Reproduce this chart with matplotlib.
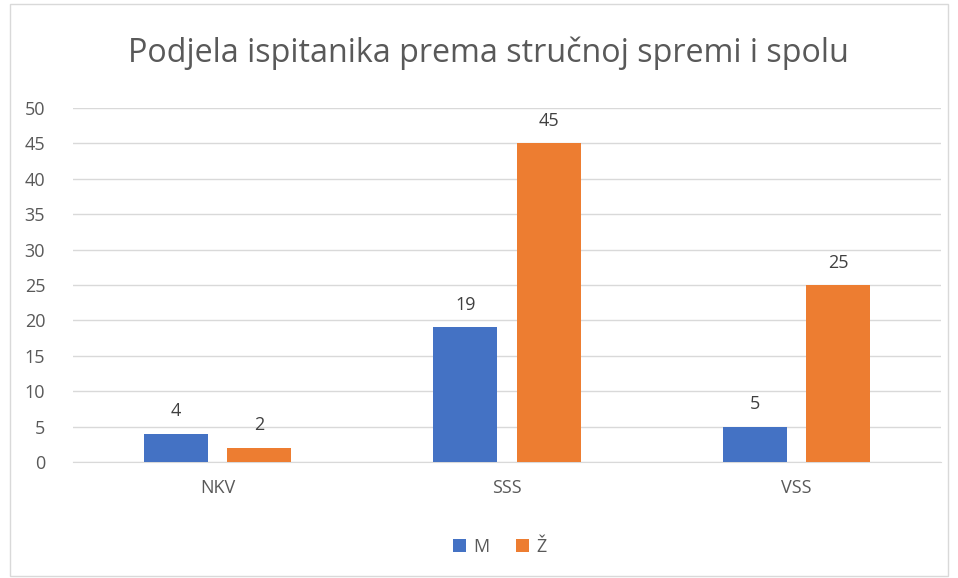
import matplotlib.pyplot as plt
import numpy as np
from matplotlib.patches import Rectangle

# podaci
kategorije = ['NKV', 'SSS', 'VSS']
muski = [4, 19, 5]
zene = [2, 45, 25]
boja_m = '#4472C4'
boja_z = '#ED7D31'
siva = '#595959'

plt.rcParams['font.family'] = ['Open Sans', 'DejaVu Sans']

fig = plt.figure(figsize=(9.58, 5.78), dpi=100)
W, H = 958, 578
ax = fig.add_axes([73 / W, 1 - 462 / H, (941 - 73) / W, (462 - 108) / H])

x = np.arange(len(kategorije))
sirina = 0.221
pomak = 0.1436
b1 = ax.bar(x - pomak, muski, sirina, color=boja_m, label='M', zorder=3)
b2 = ax.bar(x + pomak, zene, sirina, color=boja_z, label='Ž', zorder=3)

for bars in (b1, b2):
    for b in bars:
        ax.text(b.get_x() + b.get_width() / 2, b.get_height() + 1.9,
                str(int(b.get_height())), ha='center', va='bottom',
                fontsize=13, color='#404040')

ax.set_xlim(-0.5, 2.5)
ax.set_ylim(0, 50)
ax.set_yticks(range(0, 51, 5))
ax.set_xticks(x)
ax.set_xticklabels(kategorije)
ax.tick_params(length=0, labelsize=13, colors=siva)
ax.tick_params(axis='y', pad=20)
ax.tick_params(axis='x', pad=12)
ax.grid(axis='y', color='#d9d9d9', linewidth=1, zorder=0)
for s in ['top', 'right', 'left']:
    ax.spines[s].set_visible(False)
ax.spines['bottom'].set_color('#d9d9d9')

fig.text(488 / W, 1 - 53 / H, 'Podjela ispitanika prema stručnoj spremi i spolu',
         ha='center', va='center', fontsize=23.2, color=siva)

leg = fig.legend(handles=[b1, b2], loc='center', bbox_to_anchor=(500 / W, 1 - 547 / H),
                 ncol=2, frameon=False, fontsize=13, handlelength=0.7, handleheight=0.7,
                 handletextpad=0.4, columnspacing=1.5)
for t in leg.get_texts():
    t.set_color(siva)

fig.patches.append(Rectangle((10 / W, 2 / H), (948 - 10) / W, (574 - 2) / H,
                             transform=fig.transFigure, fill=False,
                             edgecolor='#d9d9d9', linewidth=1))

fig.savefig('out.png', dpi=100)
